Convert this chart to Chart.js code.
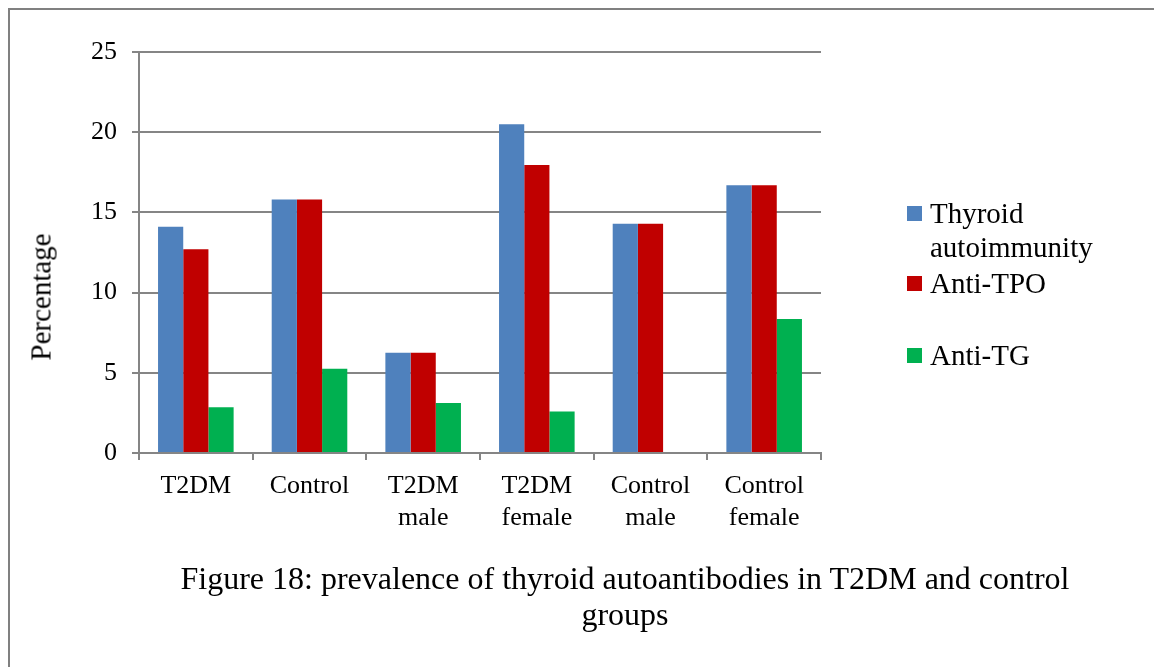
<!DOCTYPE html>
<html>
<head>
<meta charset="utf-8">
<script src="https://cdn.jsdelivr.net/npm/chart.js@4.4.1/dist/chart.umd.min.js"></script>
<style>
  html, body { margin: 0; padding: 0; background: #ffffff; }
  body { width: 1154px; height: 667px; position: relative; overflow: hidden; font-family: "Liberation Serif", "Times New Roman", serif; color: #000; }
  #frame { position: absolute; left: 8px; top: 8px; width: 1200px; height: 700px; border-left: 2px solid #808080; border-top: 2px solid #808080; }
  #c { position: absolute; left: 0; top: 0; }
  #ytitle { position: absolute; left: 41px; top: 297px; transform: translate(-50%, -50%) rotate(-90deg); font-size: 29px; white-space: nowrap; }
  #legend { position: absolute; left: 0; top: 0; }
  .lg-item { position: absolute; left: 907px; display: flex; align-items: flex-start; font-size: 29px; line-height: 34px; white-space: nowrap; }
  .lg-box { width: 15px; height: 15px; margin-top: 10px; margin-right: 8px; flex: none; }
  #caption { position: absolute; left: 625px; top: 560px; transform: translateX(-50%); width: 1000px; text-align: center; font-size: 32px; line-height: 36px; }
</style>
</head>
<body>
<div id="frame"></div>
<canvas id="c" width="1154" height="667"></canvas>
<div id="ytitle">Percentage</div>
<div id="legend"></div>
<div id="caption">Figure 18: prevalence of thyroid autoantibodies in T2DM and control<br>groups</div>
<script>
const categories = [["T2DM"], ["Control"], ["T2DM", "male"], ["T2DM", "female"], ["Control", "male"], ["Control", "female"]];
const thyroidAutoimmunity = [14.1, 15.8, 6.25, 20.5, 14.3, 16.7];
const antiTPO = [12.7, 15.8, 6.25, 17.95, 14.3, 16.7];
const antiTG = [2.85, 5.26, 3.12, 2.58, 0, 8.35];
const yTicks = [0, 5, 10, 15, 20, 25];
const seriesNames = [["Thyroid", "autoimmunity"], ["Anti-TPO"], ["Anti-TG"]];
const seriesColors = ["#4F81BD", "#C00000", "#00B050"];
const legendTops = [196, 266, 338];

const gridColor = "#858585";
const tickFont = { family: "Liberation Serif", size: 26, lineHeight: 1.23 };

const ctx = document.getElementById("c").getContext("2d");
new Chart(ctx, {
  type: "bar",
  data: {
    labels: categories,
    datasets: [thyroidAutoimmunity, antiTPO, antiTG].map((d, i) => ({
      label: seriesNames[i].join(" "),
      data: d,
      backgroundColor: seriesColors[i],
      borderWidth: 0,
      barPercentage: 1.0,
      categoryPercentage: 0.665
    }))
  },
  options: {
    responsive: false,
    devicePixelRatio: 1,
    animation: false,
    layout: { padding: { left: 69, top: 52, right: 333, bottom: 114 } },
    plugins: { legend: { display: false }, tooltip: { enabled: false } },
    scales: {
      x: {
        offset: true,
        grid: { offset: true, drawOnChartArea: false, drawTicks: true, tickLength: 7, color: gridColor, lineWidth: 2 },
        border: { display: true, color: gridColor, width: 2 },
        ticks: { color: "#000", font: tickFont, padding: 10, maxRotation: 0, autoSkip: false },
        afterFit: s => { s.height = 100; }
      },
      y: {
        min: 0,
        max: 25,
        afterBuildTicks: s => { s.ticks = yTicks.map(v => ({ value: v })); },
        grid: { color: gridColor, lineWidth: 2, drawTicks: true, tickLength: 7 },
        border: { display: true, color: gridColor, width: 2 },
        ticks: { color: "#000", font: tickFont, padding: 15 },
        afterFit: s => { s.width = 70; }
      }
    }
  }
});

const legend = document.getElementById("legend");
seriesNames.forEach((name, i) => {
  const item = document.createElement("div");
  item.className = "lg-item";
  item.style.top = legendTops[i] + "px";
  const box = document.createElement("div");
  box.className = "lg-box";
  box.style.background = seriesColors[i];
  const txt = document.createElement("div");
  txt.innerHTML = name.join("<br>");
  item.appendChild(box);
  item.appendChild(txt);
  legend.appendChild(item);
});
</script>
</body>
</html>
